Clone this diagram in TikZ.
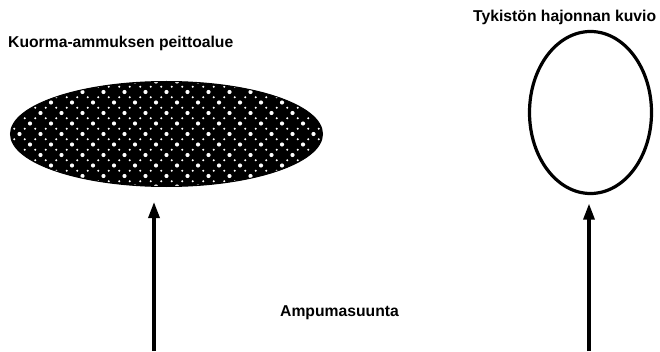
\documentclass[tikz,border=0pt]{standalone}
\usepackage{fontspec}
\setmainfont{Liberation Sans}
\usetikzlibrary{positioning,arrows.meta,shapes}
\tikzset{
  lbl/.style={font=\bfseries\fontsize{15.7}{18}\selectfont,inner sep=0pt,anchor=base west},
  zone/.style={ellipse,draw,line width=3.2pt,inner sep=0pt},
  zonefill/.style={ellipse,draw,fill=black,line width=1pt,inner sep=0pt,
    path picture={
      \foreach \i in {-8,...,8}
        \foreach \j in {-3,...,3} {
          \fill[white] ([shift={(21*\i,21*\j)}]path picture bounding box.center) circle (2.1pt);
          \fill[white] ([shift={(21*\i+10.5,21*\j+10.5)}]path picture bounding box.center) circle (2.1pt);
        }
      \foreach \i in {-16,...,15}
        \foreach \j in {-6,...,5}
          \fill[white] ([shift={(10.5*\i+5.25,10.5*\j+5.25)}]path picture bounding box.center) circle (1.1pt);
    }},
  dirarrow/.style={-{Triangle[length=16pt,width=11pt]},line width=3.2pt},
}

\begin{document}
\begin{tikzpicture}[x=1pt,y=1pt]
  \useasboundingbox (0,0) rectangle (660,351);
  \node[zonefill,minimum width=312,minimum height=105] (zl) at (166.5,217) {};
  \node[zone,minimum width=122,minimum height=162] (zr) at (590.5,238.5) {};
  \node[lbl] (tl) at (8,303) {Kuorma-ammuksen peittoalue};
  \node[lbl] (tr) at (473,329) {Tykistön hajonnan kuvio};
  \node[lbl] (td) at (280,35) {Ampumasuunta};
  \coordinate (sl) at (154,0);
  \coordinate (sr) at (589,0);
  \draw[dirarrow,shorten >=15pt] (sl) -- (sl |- zl.south);
  \draw[dirarrow,shorten >=8.5pt] (sr) -- (sr |- zr.south);
\end{tikzpicture}
\end{document}
